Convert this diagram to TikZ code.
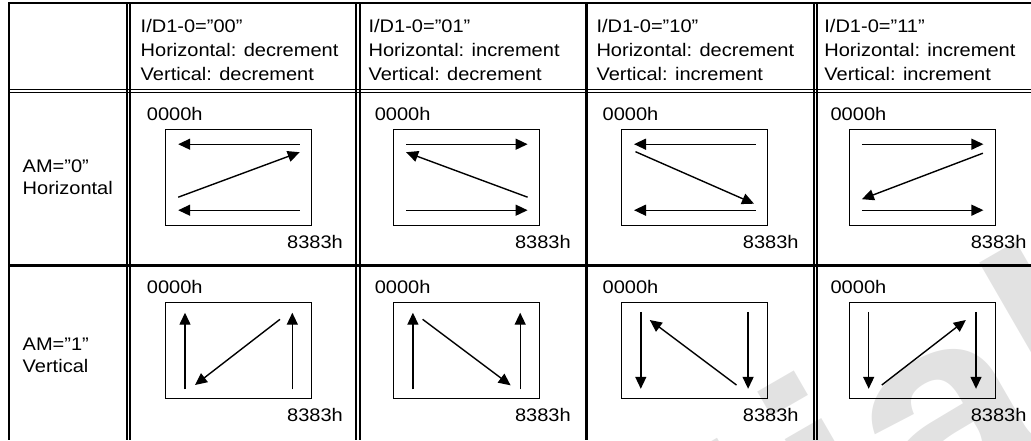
\documentclass[tikz,border=0pt]{standalone}
\usepackage{fontspec}
\setmainfont{Liberation Sans}[FakeStretch=1.1]
\usepackage{tikz}
\usetikzlibrary{arrows.meta}
\definecolor{stampgray}{RGB}{226,226,226}

\begin{document}
\begin{tikzpicture}[x=1pt, y=-1pt, >={Triangle[length=12pt, width=11pt]},
  txt/.style={anchor=base west, inner sep=0pt, font=\fontsize{18.2}{20}\selectfont},
  hrule/.style={line width=1.3pt},
  vrule/.style={line width=1.9pt},
  scan/.style={->, line width=1.4pt}]

\useasboundingbox (0,0) rectangle (1031,440);
\clip (0,0) rectangle (1031,440);

% Watermark, mostly cut off by the page edge
\node[stampgray, rotate=30, anchor=base east, inner sep=0pt,
  font=\fontsize{280}{280}\selectfont\bfseries] (stamp) at (1137,407) {Confidential};

% Table frame and rules
\draw[hrule] (8,3) -- (1031,3);
\draw[vrule] (8.8,2.4) -- (8.8,440);
\draw[hrule] (8,89.6) -- (1031,89.6);
\draw[hrule] (8,92.4) -- (1031,92.4);
\draw[line width=2.6pt] (8,265.6) -- (1031,265.6);
\foreach \x in {127.1,130.4,356.3,359.6,814.3,816.8}
  \draw[vrule] (\x,3) -- (\x,440);
\draw[line width=2.6pt] (586.2,3) -- (586.2,440);

% Column headers
\foreach \code/\hdir/\vdir [count=\i from 0] in
  {00/decrement/decrement, 01/increment/decrement,
   10/decrement/increment, 11/increment/increment}
{
  \pgfmathsetmacro{\hx}{140.5+227.9*\i}
  \node[txt] (id\code) at (\hx,32) {I/D1-0="\code”};
  \node[txt] (hd\code) at (\hx,56) {Horizontal: \hdir};
  \node[txt] (vd\code) at (\hx,80) {Vertical: \vdir};
}

% Row headers
\node[txt] (am0) at (22.5,172) {AM="0”};
\node[txt] (am0dir) at (22.5,194) {Horizontal};
\node[txt] (am1) at (22.5,350) {AM="1”};
\node[txt] (am1dir) at (22.5,372) {Vertical};

% AM=0: horizontal scans
\foreach \i/\hs/\he/\xa/\ya/\xb/\yb in
  {0/134/12.5/12.5/68/134/23,
   1/12.5/134/134/68/12.5/23,
   2/134/12.5/14/22.5/132.5/74.5,
   3/12.5/134/133.5/24/12.5/70}
{
  \pgfmathsetmacro{\bx}{165.7+227.9*\i}
  \node[txt] (first-h\i) at (\bx-19,120) {0000h};
  \node[txt, anchor=base east] (last-h\i) at (\bx+177.3,248) {8383h};
  \begin{scope}[shift={(\bx,129.2)}]
    \draw[hrule] (0,0) rectangle (146,96.3);
    \draw[scan] (\hs,15) -- (\he,15);
    \draw[scan] (\hs,81) -- (\he,81);
    \draw[scan] (\xa,\ya) -- (\xb,\yb);
  \end{scope}
}

% AM=1: vertical scans
\foreach \i/\vs/\ve/\xa/\ya/\xb/\yb in
  {0/87/10.4/114.3/17/29.3/82.7,
   1/87/10.4/29/17/117/83,
   2/9.5/86.5/115/82.7/28.3/17.7,
   3/9.5/86.5/32.4/82.7/116.4/17.7}
{
  \pgfmathsetmacro{\bx}{165.7+227.9*\i}
  \node[txt] (first-v\i) at (\bx-19,293) {0000h};
  \node[txt, anchor=base east] (last-v\i) at (\bx+177.3,421) {8383h};
  \begin{scope}[shift={(\bx,302.3)}]
    \draw[hrule] (0,0) rectangle (146,96);
    \draw[scan] (19.3,\vs) -- (19.3,\ve);
    \draw[scan] (126.6,\vs) -- (126.6,\ve);
    \draw[scan] (\xa,\ya) -- (\xb,\yb);
  \end{scope}
}

\end{tikzpicture}
\end{document}
